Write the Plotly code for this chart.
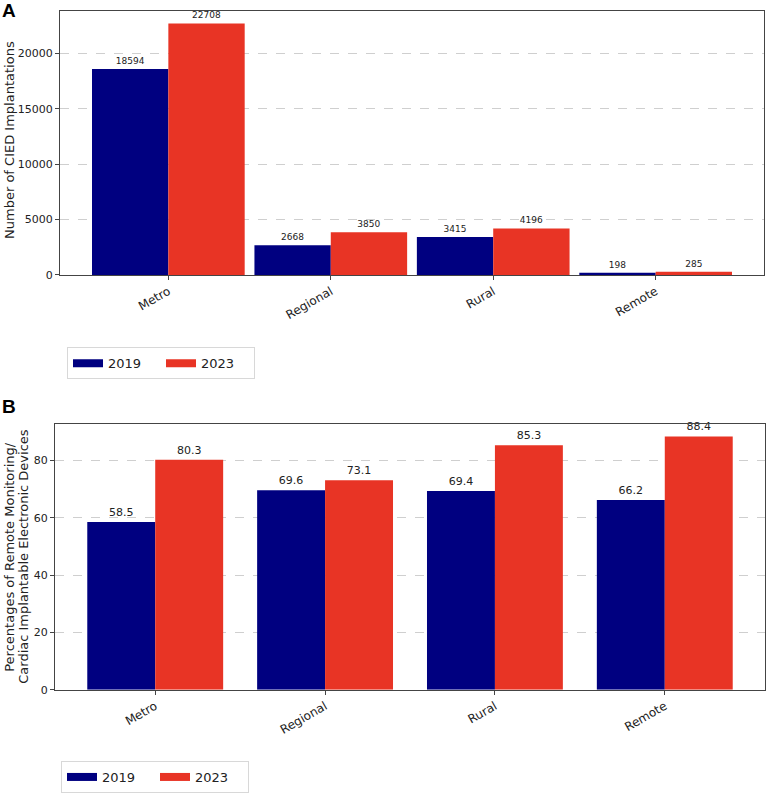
import plotly.graph_objects as go

categories = ["Metro", "Regional", "Rural", "Remote"]
years = ["2019", "2023"]
implant_2019 = [18594, 2668, 3415, 198]
implant_2023 = [22708, 3850, 4196, 285]
remote_2019 = [58.5, 69.6, 69.4, 66.2]
remote_2023 = [80.3, 73.1, 85.3, 88.4]
implant_ticks = [0, 5000, 10000, 15000, 20000]
remote_ticks = [0, 20, 40, 60, 80]
title_top = "Number of CIED Implantations"
title_bot_lines = ["Percentages of Remote Monitoring/", "Cardiac Implantable Electronic Devices"]

NAVY = "#000080"
RED = "#e83425"
W, H = 767, 793
FONT = "DejaVu Sans"
BW_TOP = 0.47
BW_BOT = 0.40

fig = go.Figure()

def px_x(a, b):
    return [a / W, b / W]

def px_y(top, bottom):
    return [1 - bottom / H, 1 - top / H]

def add_bar(y, name, color, labels, size, xa, ya, width, offset):
    fig.add_trace(go.Bar(x=categories, y=y, name=name, marker=dict(color=color, line=dict(width=0)),
                         text=labels, textposition="outside", textfont=dict(family=FONT, size=size, color="#222"),
                         cliponaxis=False, xaxis=xa, yaxis=ya, width=width, offset=offset, showlegend=False))

def add_legend_key(name, color, xa, ya, leg):
    fig.add_trace(go.Scatter(x=[None], y=[None], mode="lines", name=name, line=dict(color=color, width=8),
                             xaxis=xa, yaxis=ya, legend=leg, showlegend=True, hoverinfo="skip"))

add_bar(implant_2019, years[0], NAVY, [str(v) for v in implant_2019], 9, "x", "y", BW_TOP, -BW_TOP)
add_bar(implant_2023, years[1], RED, [str(v) for v in implant_2023], 9, "x", "y", BW_TOP, 0)
add_bar(remote_2019, years[0], NAVY, [f"{v:.1f}" for v in remote_2019], 11, "x2", "y2", BW_BOT, -BW_BOT)
add_bar(remote_2023, years[1], RED, [f"{v:.1f}" for v in remote_2023], 11, "x2", "y2", BW_BOT, 0)
add_legend_key(years[0], NAVY, "x", "y", "legend")
add_legend_key(years[1], RED, "x", "y", "legend")
add_legend_key(years[0], NAVY, "x2", "y2", "legend2")
add_legend_key(years[1], RED, "x2", "y2", "legend2")

axis_common = dict(showline=True, linecolor="#444", linewidth=1, mirror=True, ticks="outside",
                   ticklen=4, tickcolor="#444", zeroline=False, automargin=False)
xtick = dict(tickfont=dict(family=FONT, size=12, color="#222"))
ytick = dict(tickfont=dict(family=FONT, size=11, color="#222"))
grid = dict(showgrid=True, gridcolor="#cfcfcf", griddash="dash", gridwidth=1)
legend_common = dict(orientation="h", xanchor="left", yanchor="top", bordercolor="#d8d8d8", borderwidth=1,
                     font=dict(family=FONT, size=13, color="#222"), itemwidth=30, bgcolor="white",
                     tracegroupgap=0, entrywidth=48, entrywidthmode="pixels")

fig.update_layout(
    width=W, height=H, margin=dict(l=0, r=0, t=0, b=0),
    paper_bgcolor="white", plot_bgcolor="white",
    font=dict(family=FONT, color="#222"),
    barmode="overlay",
    xaxis=dict(domain=px_x(60, 764), anchor="y", type="category",
               range=[-BW_TOP - 0.05 * (3 + 2 * BW_TOP), 3 + BW_TOP + 0.05 * (3 + 2 * BW_TOP)],
               tickangle=-30, showgrid=False, **axis_common, **xtick),
    yaxis=dict(domain=px_y(11, 277), anchor="x", range=[0, max(implant_2023) * 1.05],
               tickvals=implant_ticks, ticktext=[str(t) for t in implant_ticks], **grid,
               **axis_common, **ytick),
    xaxis2=dict(domain=px_x(55, 765), anchor="y2", type="category",
                range=[-BW_BOT - 0.05 * (3 + 2 * BW_BOT), 3 + BW_BOT + 0.05 * (3 + 2 * BW_BOT)],
                tickangle=-30, showgrid=False, **axis_common, **xtick),
    yaxis2=dict(domain=px_y(427, 695), anchor="x2", range=[0, max(remote_2023) * 1.05],
                tickvals=remote_ticks, ticktext=[str(t) for t in remote_ticks], **grid,
                **axis_common, **ytick),
    legend=dict(x=67 / W, y=1 - 350 / H, **legend_common),
    legend2=dict(x=61 / W, y=1 - 767 / H, **legend_common),
    annotations=[
        dict(text="<b>A</b>", x=0, y=1, xref="paper", yref="paper", xanchor="left", yanchor="top",
             showarrow=False, font=dict(family="Liberation Sans", size=19, color="black"), xshift=0, yshift=2),
        dict(text="<b>B</b>", x=0, y=1 - 397 / H, xref="paper", yref="paper", xanchor="left", yanchor="top",
             showarrow=False, font=dict(family="Liberation Sans", size=19, color="black"), xshift=0),
        dict(text=title_top, x=10 / W, y=1 - 141 / H, xref="paper", yref="paper", xanchor="center",
             yanchor="middle", textangle=-90, showarrow=False, font=dict(family=FONT, size=13, color="#222")),
        dict(text=title_bot_lines[0], x=10 / W, y=1 - 561 / H, xref="paper", yref="paper", xanchor="center",
             yanchor="middle", textangle=-90, showarrow=False, font=dict(family=FONT, size=13, color="#222")),
        dict(text=title_bot_lines[1], x=24 / W, y=1 - 561 / H, xref="paper", yref="paper", xanchor="center",
             yanchor="middle", textangle=-90, showarrow=False, font=dict(family=FONT, size=13, color="#222")),
    ],
)

fig.write_html("out.html")
